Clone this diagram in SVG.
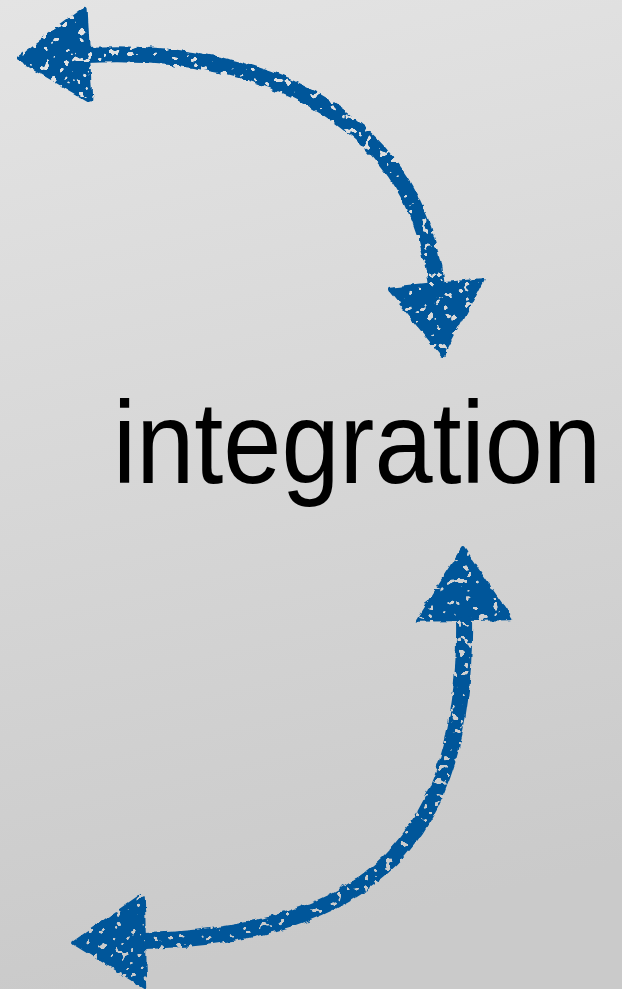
<svg xmlns="http://www.w3.org/2000/svg" width="622" height="989" viewBox="0 0 622 989">
  <defs>
    <linearGradient id="bg" x1="0" y1="0" x2="0.15" y2="1">
      <stop offset="0" stop-color="#e4e4e4"/>
      <stop offset="1" stop-color="#cacaca"/>
    </linearGradient>
    <!-- rough, chalky edge for hand-drawn strokes -->
    <filter id="chalk" filterUnits="userSpaceOnUse" x="0" y="0" width="622" height="989">
      <feTurbulence type="fractalNoise" baseFrequency="0.1" numOctaves="2" seed="3" result="n"/>
      <feDisplacementMap in="SourceGraphic" in2="n" scale="6" xChannelSelector="R" yChannelSelector="G" result="d"/>
      <feTurbulence type="fractalNoise" baseFrequency="0.14" numOctaves="2" seed="11" result="s"/>
      <feColorMatrix in="s" type="matrix" values="0 0 0 0 0  0 0 0 0 0  0 0 0 0 0  -30 0 0 0 20.5" result="holes"/>
      <feComposite in="d" in2="holes" operator="in"/>
    </filter>
    <marker id="head" markerUnits="userSpaceOnUse" markerWidth="80" markerHeight="100" viewBox="-4 -50 80 100" refX="0" refY="0" orient="auto-start-reverse" overflow="visible">
      <path d="M -2,-46 L 68,0 L -2,46 Z" class="tip"/>
    </marker>
    <style>
      .shaft { fill: none; stroke: #03569a; stroke-width: 16; stroke-linecap: round; marker-start: url(#head); marker-end: url(#head); }
      .tip { fill: #03569a; stroke: #03569a; stroke-width: 4; stroke-linejoin: round; }
      .label { font-family: "Liberation Sans", Helvetica, Arial, sans-serif; font-size: 104px; fill: #000; }
    </style>
  </defs>

  <rect width="622" height="989" fill="url(#bg)"/>

  <g id="connectors" filter="url(#chalk)">
    <path id="arc-top" class="shaft" d="M 86,55 C 280,45 420,130 436,287"/>
    <path id="arc-bottom" class="shaft" d="M 464,617 C 468,840 370,935 142,941"/>
  </g>

  <g id="integration">
    <!-- slightly tall setting of the word, baseline at y=483 -->
    <text class="label" x="113" y="0" transform="translate(0,483) scale(1,1.12)" textLength="488" lengthAdjust="spacingAndGlyphs">integration</text>
  </g>
</svg>
